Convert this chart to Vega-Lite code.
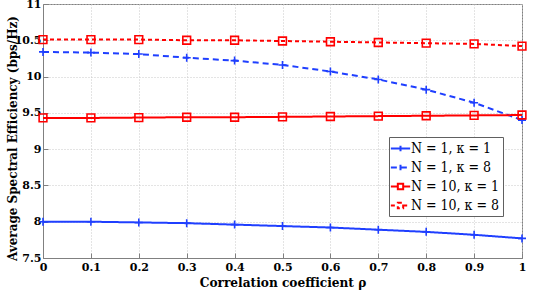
{
  "$schema": "https://vega.github.io/schema/vega-lite/v6.json",
  "autosize": "none",
  "width": 479,
  "height": 254,
  "padding": {"left": 43, "top": 4, "right": 13, "bottom": 35},
  "background": "white",
  "config": {
    "view": {"stroke": "#808080", "strokeWidth": 1},
    "font": "DejaVu Serif",
    "axis": {
      "labelFont": "DejaVu Serif", "labelFontWeight": "bold", "labelFontSize": 11, "labelColor": "black",
      "titleFont": "DejaVu Serif Condensed, DejaVu Serif", "titleFontWeight": "bold", "titleColor": "black",
      "labelOverlap": false, "labelFlush": false, "format": "~g",
      "domainColor": "#808080", "tickColor": "#808080", "tickSize": -5,
      "grid": true, "gridDash": [1, 2], "gridColor": "#c8c8c8"
    },
    "legend": {
      "labelFont": "DejaVu Serif Condensed, DejaVu Serif", "labelFontSize": 14, "labelColor": "black"
    }
  },
  "data": {
    "values": [
      {"series": "N = 1, κ = 1", "rho": 0.0, "se": 8.00},
      {"series": "N = 1, κ = 1", "rho": 0.1, "se": 8.00},
      {"series": "N = 1, κ = 1", "rho": 0.2, "se": 7.99},
      {"series": "N = 1, κ = 1", "rho": 0.3, "se": 7.98},
      {"series": "N = 1, κ = 1", "rho": 0.4, "se": 7.96},
      {"series": "N = 1, κ = 1", "rho": 0.5, "se": 7.94},
      {"series": "N = 1, κ = 1", "rho": 0.6, "se": 7.92},
      {"series": "N = 1, κ = 1", "rho": 0.7, "se": 7.89},
      {"series": "N = 1, κ = 1", "rho": 0.8, "se": 7.86},
      {"series": "N = 1, κ = 1", "rho": 0.9, "se": 7.82},
      {"series": "N = 1, κ = 1", "rho": 1.0, "se": 7.77},
      {"series": "N = 1, κ = 8", "rho": 0.0, "se": 10.34},
      {"series": "N = 1, κ = 8", "rho": 0.1, "se": 10.33},
      {"series": "N = 1, κ = 8", "rho": 0.2, "se": 10.31},
      {"series": "N = 1, κ = 8", "rho": 0.3, "se": 10.26},
      {"series": "N = 1, κ = 8", "rho": 0.4, "se": 10.22},
      {"series": "N = 1, κ = 8", "rho": 0.5, "se": 10.16},
      {"series": "N = 1, κ = 8", "rho": 0.6, "se": 10.07},
      {"series": "N = 1, κ = 8", "rho": 0.7, "se": 9.96},
      {"series": "N = 1, κ = 8", "rho": 0.8, "se": 9.82},
      {"series": "N = 1, κ = 8", "rho": 0.9, "se": 9.64},
      {"series": "N = 1, κ = 8", "rho": 1.0, "se": 9.40},
      {"series": "N = 10, κ = 1", "rho": 0.0, "se": 9.43},
      {"series": "N = 10, κ = 1", "rho": 0.1, "se": 9.43},
      {"series": "N = 10, κ = 1", "rho": 0.2, "se": 9.435},
      {"series": "N = 10, κ = 1", "rho": 0.3, "se": 9.44},
      {"series": "N = 10, κ = 1", "rho": 0.4, "se": 9.44},
      {"series": "N = 10, κ = 1", "rho": 0.5, "se": 9.445},
      {"series": "N = 10, κ = 1", "rho": 0.6, "se": 9.45},
      {"series": "N = 10, κ = 1", "rho": 0.7, "se": 9.455},
      {"series": "N = 10, κ = 1", "rho": 0.8, "se": 9.46},
      {"series": "N = 10, κ = 1", "rho": 0.9, "se": 9.465},
      {"series": "N = 10, κ = 1", "rho": 1.0, "se": 9.47},
      {"series": "N = 10, κ = 8", "rho": 0.0, "se": 10.51},
      {"series": "N = 10, κ = 8", "rho": 0.1, "se": 10.51},
      {"series": "N = 10, κ = 8", "rho": 0.2, "se": 10.51},
      {"series": "N = 10, κ = 8", "rho": 0.3, "se": 10.50},
      {"series": "N = 10, κ = 8", "rho": 0.4, "se": 10.50},
      {"series": "N = 10, κ = 8", "rho": 0.5, "se": 10.49},
      {"series": "N = 10, κ = 8", "rho": 0.6, "se": 10.48},
      {"series": "N = 10, κ = 8", "rho": 0.7, "se": 10.47},
      {"series": "N = 10, κ = 8", "rho": 0.8, "se": 10.46},
      {"series": "N = 10, κ = 8", "rho": 0.9, "se": 10.45},
      {"series": "N = 10, κ = 8", "rho": 1.0, "se": 10.42}
    ]
  },
  "encoding": {
    "x": {
      "field": "rho", "type": "quantitative",
      "scale": {"domain": [0, 1], "nice": false},
      "axis": {
        "title": "Correlation coefficient ρ",
        "values": [0, 0.1, 0.2, 0.3, 0.4, 0.5, 0.6, 0.7, 0.8, 0.9, 1],
        "titleFontSize": 13.5, "titlePadding": 3, "labelPadding": 8
      }
    },
    "y": {
      "field": "se", "type": "quantitative",
      "scale": {"domain": [7.5, 11], "nice": false, "zero": false},
      "axis": {
        "title": "Average Spectral Efficiency (bps/Hz)",
        "values": [7.5, 8, 8.5, 9, 9.5, 10, 10.5, 11],
        "titleFontSize": 13.3, "labelPadding": 7,
        "titleX": -31, "titleY": 134, "titleAngle": 270, "titleAlign": "center", "titleBaseline": "middle"
      }
    }
  },
  "layer": [
    {
      "mark": {"type": "line", "strokeWidth": 2},
      "encoding": {
        "color": {
          "field": "series", "type": "nominal",
          "scale": {
            "domain": ["N = 1, κ = 1", "N = 1, κ = 8", "N = 10, κ = 1", "N = 10, κ = 8"],
            "range": ["#1f3fff", "#1f3fff", "#ff0000", "#ff0000"]
          },
          "legend": {
            "title": null,
            "orient": "none", "legendX": 346, "legendY": 133,
            "fillColor": "white", "strokeColor": "#606060", "padding": 3,
            "symbolSize": 220, "symbolStrokeWidth": 2, "rowPadding": 3, "labelOffset": 2,
            "encode": {
              "symbols": {
                "update": {
                  "shape": {"signal": "indexof(datum.value, 'N = 1,') === 0 ? 'M-1.3,0H1.3M0,-0.38V0.38' : 'M-1.3,0H-0.36M0.36,0H1.3M-0.36,-0.36H0.36V0.36H-0.36Z'"},
                  "fill": {"value": "transparent"}
                }
              }
            }
          }
        },
        "strokeDash": {
          "field": "series", "type": "nominal",
          "scale": {
            "domain": ["N = 1, κ = 1", "N = 1, κ = 8", "N = 10, κ = 1", "N = 10, κ = 8"],
            "range": [[1, 0], [6, 4], [1, 0], [4, 3]]
          },
          "legend": {
            "title": null,
            "orient": "none", "legendX": 346, "legendY": 133,
            "fillColor": "white", "strokeColor": "#606060", "padding": 3,
            "symbolSize": 220, "symbolStrokeWidth": 2, "rowPadding": 3, "labelOffset": 2,
            "encode": {
              "symbols": {
                "update": {
                  "shape": {"signal": "indexof(datum.value, 'N = 1,') === 0 ? 'M-1.3,0H1.3M0,-0.38V0.38' : 'M-1.3,0H-0.36M0.36,0H1.3M-0.36,-0.36H0.36V0.36H-0.36Z'"},
                  "fill": {"value": "transparent"}
                }
              }
            }
          }
        }
      }
    },
    {
      "transform": [{"filter": "indexof(datum.series, 'N = 1,') === 0"}],
      "mark": {"type": "point", "filled": false, "strokeWidth": 1.6, "opacity": 1, "color": "#1f3fff", "shape": "M-1,0H1M0,-1V1", "size": 64}
    },
    {
      "transform": [{"filter": "indexof(datum.series, 'N = 10,') === 0"}],
      "mark": {"type": "point", "filled": false, "strokeWidth": 1.6, "opacity": 1, "color": "#ff0000", "shape": "square", "size": 60}
    }
  ]
}
